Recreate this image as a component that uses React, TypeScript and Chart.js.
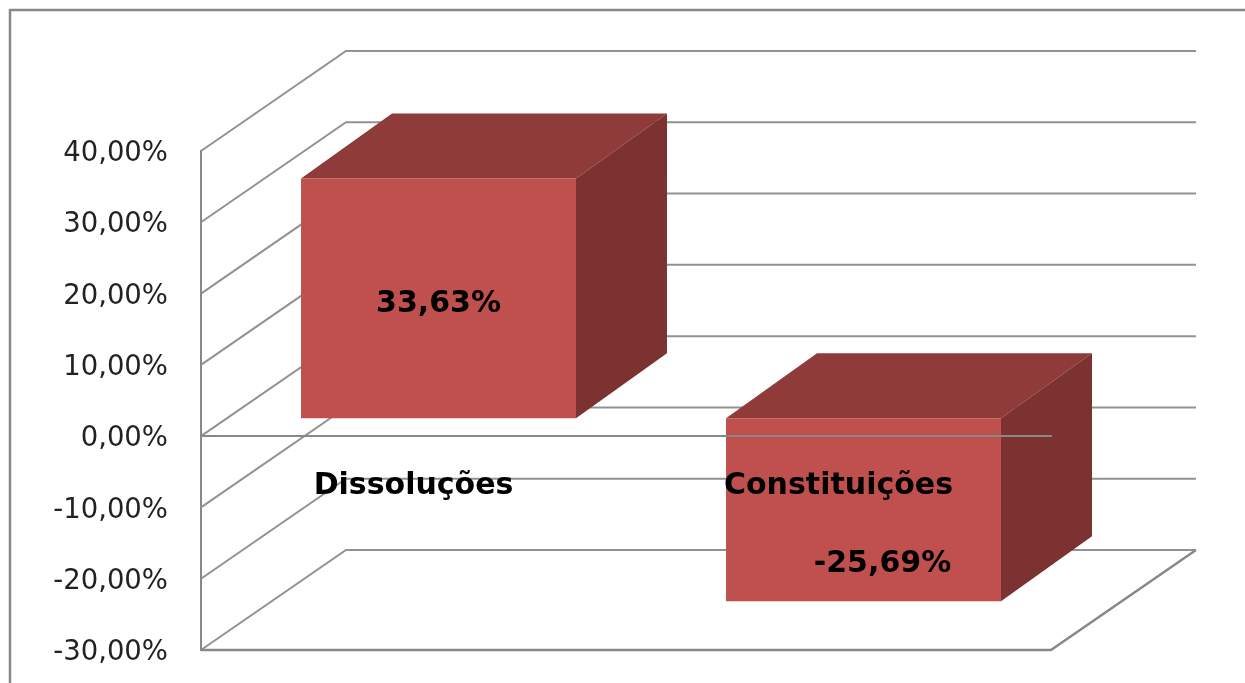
import React, { useEffect, useRef } from "react";
import { Chart, registerables } from "chart.js";

Chart.register(...registerables);

const categories = ["Dissoluções", "Constituições"];
const seriesValues = [33.63, -25.69];
const valueLabels = ["33,63%", "-25,69%"];
const yMin = -30;
const yMax = 40;
const yStep = 10;

const FRONT = "#C0504D";
const TOP = "#8E3B39";
const SIDE = "#7B3230";
const LINE = "#888888";
const WALL = { dx: 145, dy: -100 };
const BAR_FRONT = { dx: 25, dy: -18 };
const BAR_DEPTH = { dx: 91, dy: -65 };
const LABEL_SHIFT = [
  { x: 0, y: 6 },
  { x: 19, y: 54 },
];

const fmt = (v: number) => v.toFixed(2).replace(".", ",") + "%";

const walls = {
  id: "walls",
  beforeDatasetsDraw(chart: any) {
    const { ctx, chartArea: a, scales } = chart;
    const y = scales.y;
    ctx.save();
    ctx.strokeStyle = LINE;
    ctx.lineWidth = 2.5;
    ctx.beginPath();
    ctx.moveTo(1245, 10);
    ctx.lineTo(10, 10);
    ctx.lineTo(10, 683);
    ctx.stroke();
    ctx.lineWidth = 2;
    ctx.strokeStyle = "#929292";
    for (let v = yMin; v <= yMax; v += yStep) {
      const py = y.getPixelForValue(v);
      ctx.beginPath();
      ctx.moveTo(a.left, py);
      ctx.lineTo(a.left + WALL.dx, py + WALL.dy);
      ctx.lineTo(a.right + WALL.dx, py + WALL.dy);
      ctx.stroke();
    }
    const floor = y.getPixelForValue(yMin);
    ctx.lineWidth = 2.5;
    ctx.strokeStyle = LINE;
    ctx.beginPath();
    ctx.moveTo(a.left, floor);
    ctx.lineTo(a.right, floor);
    ctx.lineTo(a.right + WALL.dx, floor + WALL.dy);
    ctx.stroke();
    ctx.restore();
  },
  beforeDatasetDraw(chart: any, args: any) {
    const { ctx } = chart;
    const meta = chart.getDatasetMeta(args.index);
    ctx.save();
    ctx.translate(BAR_FRONT.dx, BAR_FRONT.dy);
    meta.data.forEach((el: any) => {
      const l = el.x - el.width / 2;
      const r = el.x + el.width / 2;
      const t = Math.min(el.y, el.base);
      const b = Math.max(el.y, el.base);
      const { dx, dy } = BAR_DEPTH;
      ctx.fillStyle = TOP;
      ctx.beginPath();
      ctx.moveTo(l, t);
      ctx.lineTo(l + dx, t + dy);
      ctx.lineTo(r + dx, t + dy);
      ctx.lineTo(r, t);
      ctx.closePath();
      ctx.fill();
      ctx.fillStyle = SIDE;
      ctx.beginPath();
      ctx.moveTo(r, t);
      ctx.lineTo(r + dx, t + dy);
      ctx.lineTo(r + dx, b + dy);
      ctx.lineTo(r, b);
      ctx.closePath();
      ctx.fill();
    });
  },
  afterDatasetDraw(chart: any) {
    chart.ctx.restore();
  },
  afterDraw(chart: any) {
    const { ctx } = chart;
    const meta = chart.getDatasetMeta(0);
    ctx.save();
    ctx.font = "bold 30px 'DejaVu Sans'";
    ctx.fillStyle = "#000000";
    ctx.textAlign = "center";
    ctx.textBaseline = "middle";
    meta.data.forEach((el: any, i: number) => {
      const cy = (el.y + el.base) / 2 + BAR_FRONT.dy;
      ctx.fillText(valueLabels[i], el.x + BAR_FRONT.dx + LABEL_SHIFT[i].x, cy + LABEL_SHIFT[i].y);
    });
    ctx.restore();
  },
};

export default function App() {
  const ref = useRef<HTMLCanvasElement>(null);
  useEffect(() => {
    const chart = new Chart(ref.current!, {
      type: "bar",
      data: {
        labels: categories,
        datasets: [
          {
            data: seriesValues,
            backgroundColor: FRONT,
            borderWidth: 0,
            categoryPercentage: 1,
            barPercentage: 0.647,
            clip: false,
          } as any,
        ],
      },
      options: {
        responsive: false,
        animation: false,
        layout: { padding: { left: 0, top: 151, right: 194, bottom: 33 } },
        plugins: { legend: { display: false }, tooltip: { enabled: false }, title: { display: false } },
        scales: {
          x: {
            position: { y: 0 } as any,
            afterFit(scale: any) {
              scale.height = 0;
            },
            grid: { display: false, drawTicks: false },
            border: { display: true, color: LINE, width: 2, z: 1 },
            ticks: {
              z: 1,
              padding: 32,
              color: "#000000",
              maxRotation: 0,
              font: { family: "'DejaVu Sans'", size: 30, weight: "bold" },
            },
          },
          y: {
            min: yMin,
            max: yMax,
            afterFit(scale: any) {
              scale.width = 201;
              scale.paddingTop = 0;
              scale.paddingBottom = 0;
            },
            grid: { display: false, drawTicks: false },
            border: { display: true, color: LINE, width: 2 },
            ticks: {
              stepSize: yStep,
              padding: 33,
              labelOffset: 3,
              color: "#222222",
              font: { family: "'DejaVu Sans'", size: 27.5 },
              callback: (v: any) => fmt(Number(v)),
            },
          },
        },
      } as any,
      plugins: [walls],
    });
    return () => chart.destroy();
  }, []);
  return (
    <canvas
      ref={ref}
      width={1245}
      height={683}
      style={{ position: "fixed", left: 0, top: 0, width: 1245, height: 683, background: "#fff" }}
    />
  );
}
